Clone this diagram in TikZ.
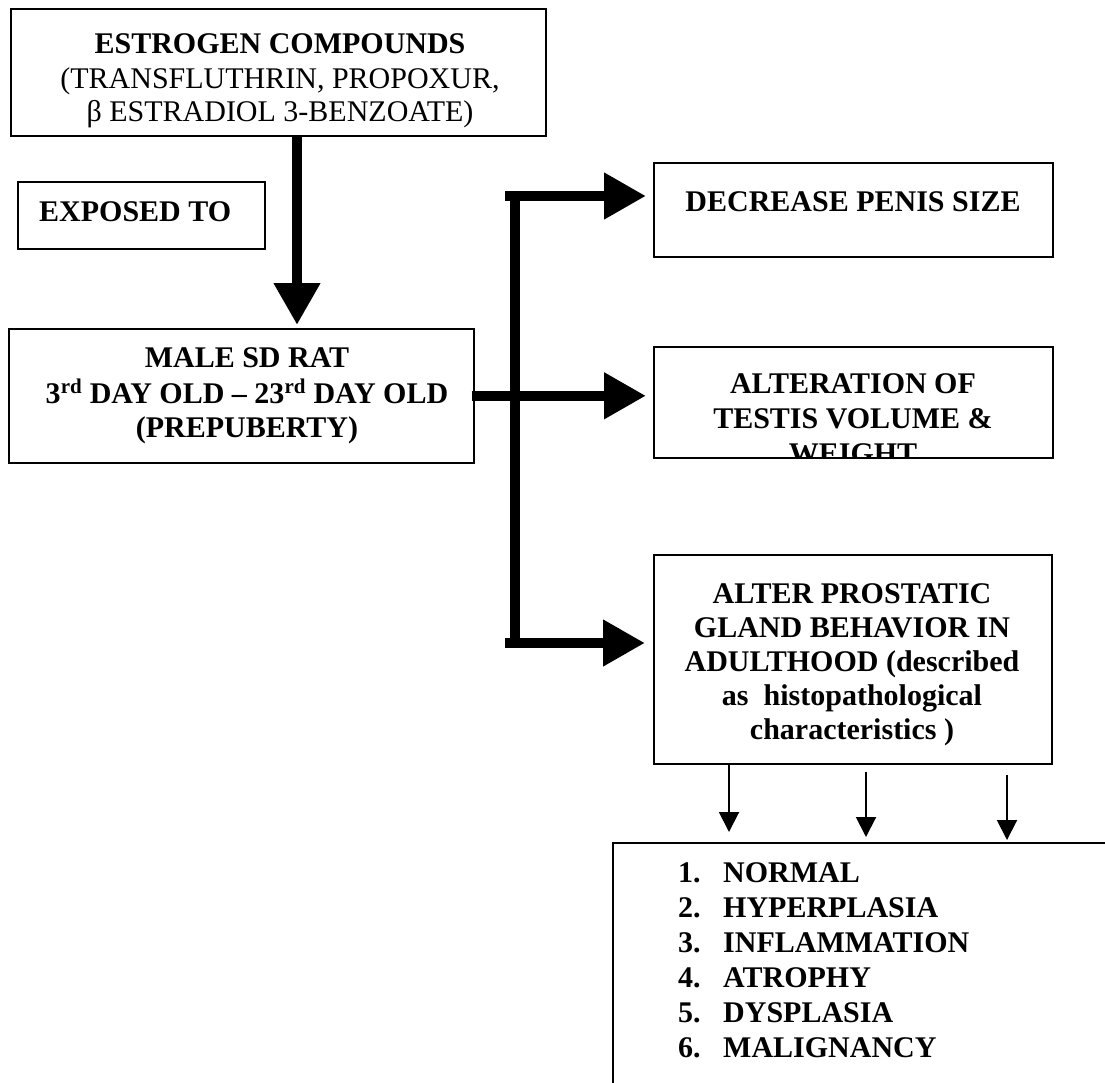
\documentclass[tikz,border=0pt]{standalone}
\usepackage{fontspec}
\setmainfont{Liberation Serif}
\usetikzlibrary{arrows.meta}
\begin{document}
\begin{tikzpicture}[x=1pt,y=-1pt,
  box/.style={draw, line width=1.6pt, inner sep=0pt, anchor=north west},
  bt/.style={font=\fontsize{30}{35}\selectfont\bfseries, inner sep=0pt, anchor=base},
  rt/.style={font=\fontsize{30}{35}\selectfont, inner sep=0pt, anchor=base},
  fat/.style={line width=10.5pt},
  fatarrow/.style={line width=10.5pt, -{Triangle[length=42pt,width=44pt]}},
  thinarrow/.style={line width=2pt, -{Triangle[length=20pt,width=20pt]}}]
\useasboundingbox (0,0) rectangle (1105,1083);
\fill[white] (0,0) rectangle (1105,1083);
\clip (0,0) rectangle (1105,1083);

% boxes
\node[box, minimum width=535pt, minimum height=127pt] (estrogen) at (10,8) {};
\node[box, minimum width=247pt, minimum height=67pt] (exposed) at (17,181) {};
\node[box, minimum width=465pt, minimum height=134pt] (male) at (8,328) {};
\node[box, minimum width=399pt, minimum height=94pt] (decrease) at (653,162) {};
\node[box, minimum width=399pt, minimum height=111pt] (alteration) at (653,346) {};
\node[box, minimum width=398pt, minimum height=209pt] (prostatic) at (653,554) {};
\node[box, minimum width=600pt, minimum height=400pt] (list) at (612,842) {};

% texts
\node[bt] (e1) at (280,54) {ESTROGEN COMPOUNDS};
\node[rt] (e2) at (280,89) {(TRANSFLUTHRIN, PROPOXUR,};
\node[rt] (e3) at (280,122) {β ESTRADIOL 3-BENZOATE)};

\node[bt, anchor=base west] (x1) at (39,222) {EXPOSED TO};

\node[bt] (m1) at (247,367) {MALE SD RAT};
\node[bt] (m2) at (247,403) {3\textsuperscript{rd} DAY OLD – 23\textsuperscript{rd} DAY OLD};
\node[bt] (m3) at (247,437) {(PREPUBERTY)};

\node[bt] (d1) at (853,212) {DECREASE PENIS SIZE};

\begin{scope}
\clip (alteration.north west) rectangle (alteration.south east);
\node[bt] (a1) at (853,393) {ALTERATION OF};
\node[bt] (a2) at (853,428) {TESTIS VOLUME \&};
\node[bt] (a3) at (853,463) {WEIGHT};
\end{scope}

\node[bt] (p1) at (852,603) {ALTER PROSTATIC};
\node[bt] (p2) at (852,637) {GLAND BEHAVIOR IN};
\node[bt] (p3) at (852,671) {ADULTHOOD (described};
\node[bt] (p4) at (852,705) {as\ \ histopathological};
\node[bt] (p5) at (852,739) {characteristics )};

\node[bt, anchor=base west] (l1) at (678,882) {\makebox[45pt][l]{1.}NORMAL};
\node[bt, anchor=base west] (l2) at (678,917) {\makebox[45pt][l]{2.}HYPERPLASIA};
\node[bt, anchor=base west] (l3) at (678,952) {\makebox[45pt][l]{3.}INFLAMMATION};
\node[bt, anchor=base west] (l4) at (678,987) {\makebox[45pt][l]{4.}ATROPHY};
\node[bt, anchor=base west] (l5) at (678,1022) {\makebox[45pt][l]{5.}DYSPLASIA};
\node[bt, anchor=base west] (l6) at (678,1057) {\makebox[45pt][l]{6.}MALIGNANCY};

% connectors
\coordinate (dx) at (297,0);
\draw[fatarrow, shorten >=3pt] (estrogen.south -| dx) -- (male.north -| dx);
\draw[fatarrow, shorten >=7pt] ([xshift=-3pt]male.east) -- (male.east -| alteration.west);

\coordinate (jt) at (515,196);
\coordinate (jb) at (515,643);
\draw[fat, line cap=rect] (jt) -- (jb);
\draw[fatarrow, shorten >=7pt] ([xshift=-10pt]jt) -- (jt -| decrease.west);
\draw[fatarrow, shorten >=8pt] ([xshift=-10pt]jb) -- (jb -| prostatic.west);

\coordinate (c1) at (729,0);
\coordinate (c2) at (866,0);
\coordinate (c3) at (1007,0);
\draw[thinarrow, shorten >=10pt] (prostatic.south -| c1) -- (list.north -| c1);
\draw[thinarrow, shorten <=7pt, shorten >=5pt] (prostatic.south -| c2) -- (list.north -| c2);
\draw[thinarrow, shorten <=10pt, shorten >=2pt] (prostatic.south -| c3) -- (list.north -| c3);
\end{tikzpicture}
\end{document}
